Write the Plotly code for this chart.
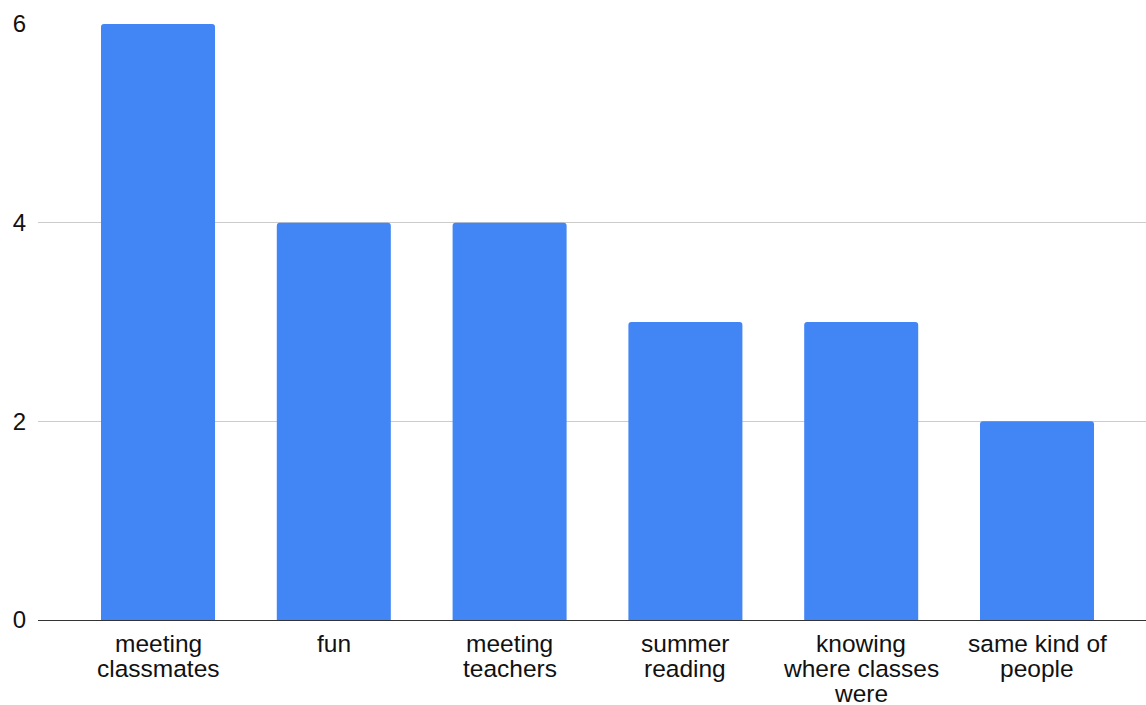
import plotly.graph_objects as go

# Survey responses: what helped most during orientation
categories = [
    "meeting\nclassmates",
    "fun",
    "meeting\nteachers",
    "summer\nreading",
    "knowing\nwhere classes\nwere",
    "same kind of\npeople",
]
counts = [6, 4, 4, 3, 3, 2]
y_ticks = [0, 2, 4, 6]

BAR_COLOR = "#4285F4"
FONT = "Liberation Sans, Arial, Helvetica, sans-serif"
TEXT_COLOR = "#111111"

fig = go.Figure(
    go.Bar(
        x=list(range(len(categories))),
        y=counts,
        marker=dict(color=BAR_COLOR, line=dict(width=0), cornerradius=3),
        hoverinfo="skip",
    )
)

# Category labels, one annotation per text line for tight line spacing
annotations = []
line_step = 25
for i, label in enumerate(categories):
    for j, line in enumerate(label.split("\n")):
        annotations.append(
            dict(
                x=i, xref="x", y=0, yref="paper",
                text=line, showarrow=False,
                xanchor="center", yanchor="middle",
                yshift=-(line_step * (j + 1)) + 2,
                borderpad=0,
                font=dict(family=FONT, size=24.5, color=TEXT_COLOR),
            )
        )

fig.update_layout(
    width=1146,
    height=705,
    margin=dict(l=38, r=0, t=24, b=85, pad=0),
    paper_bgcolor="white",
    plot_bgcolor="white",
    bargap=0.3515,
    showlegend=False,
    annotations=annotations,
    xaxis=dict(
        range=[-0.6826, 5.62],
        showticklabels=False,
        showgrid=False,
        zeroline=False,
        showline=False,
        ticks="",
        fixedrange=True,
    ),
    yaxis=dict(
        range=[0, 6],
        tickvals=y_ticks,
        ticktext=[str(v) for v in y_ticks],
        showgrid=True,
        gridcolor="#cccccc",
        gridwidth=1,
        zeroline=True,
        zerolinecolor="#333333",
        zerolinewidth=1,
        showline=False,
        ticks="",
        ticklabelstandoff=11,
        tickfont=dict(family=FONT, size=24, color=TEXT_COLOR),
        fixedrange=True,
    ),
)

fig.write_html("out.html")
